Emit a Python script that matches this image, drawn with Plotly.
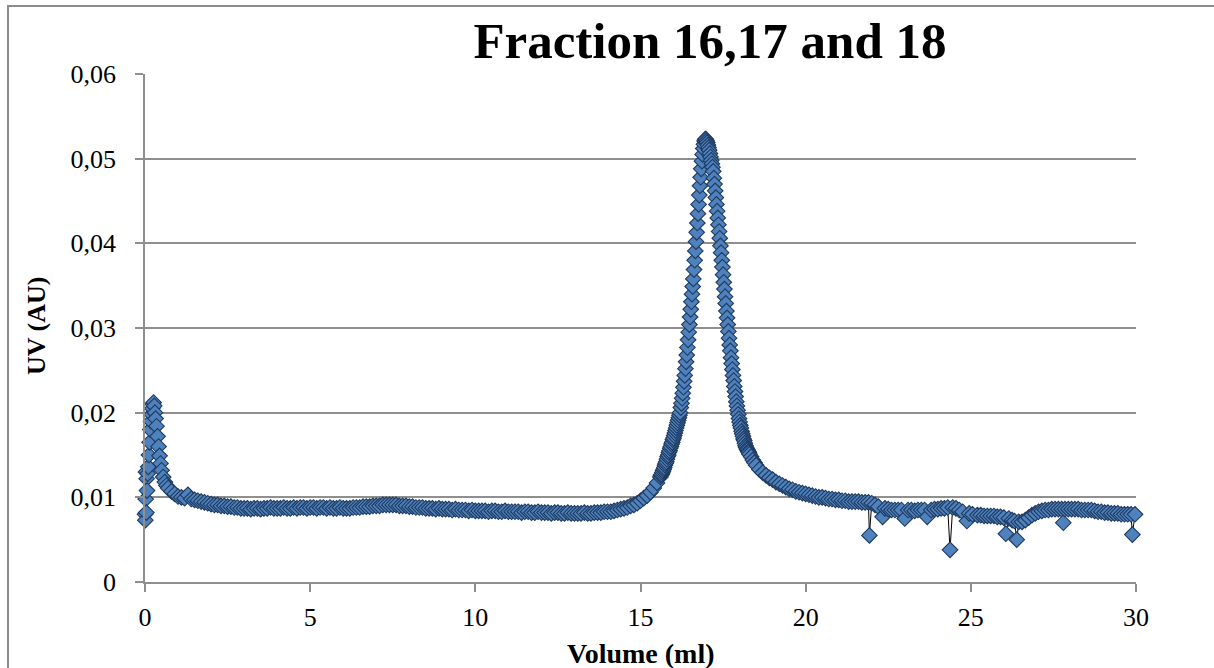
import plotly.graph_objects as go

# ---- data (volume in ml, UV absorbance in AU) ----
volume_ml = [
    0.00, 0.01, 0.02, 0.03, 0.04, 0.05, 0.06, 0.08, 0.10, 0.12, 0.14, 0.16, 0.18, 0.20, 0.22, 0.24,
    0.26, 0.28, 0.30, 0.32, 0.35, 0.38, 0.41, 0.44, 0.47, 0.50, 0.55, 0.60, 0.65, 0.70, 0.80, 0.90,
    1.0, 1.1, 1.2, 1.3, 1.4, 1.5, 1.6, 1.7, 1.8, 1.9,
    2.0, 2.1, 2.2, 2.3, 2.4, 2.5, 2.6, 2.7, 2.8, 2.9,
    3.0, 3.1, 3.2, 3.3, 3.4, 3.5, 3.6, 3.7, 3.8, 3.9,
    4.0, 4.1, 4.2, 4.3, 4.4, 4.5, 4.6, 4.7, 4.8, 4.9,
    5.0, 5.1, 5.2, 5.3, 5.4, 5.5, 5.6, 5.7, 5.8, 5.9,
    6.0, 6.1, 6.2, 6.3, 6.4, 6.5, 6.6, 6.7, 6.8, 6.9,
    7.0, 7.1, 7.2, 7.3, 7.4, 7.5, 7.6, 7.7, 7.8, 7.9,
    8.0, 8.1, 8.2, 8.3, 8.4, 8.5, 8.6, 8.7, 8.8, 8.9,
    9.0, 9.1, 9.2, 9.3, 9.4, 9.5, 9.6, 9.7, 9.8, 9.9,
    10.0, 10.1, 10.2, 10.3, 10.4, 10.5, 10.6, 10.7, 10.8, 10.9,
    11.0, 11.1, 11.2, 11.3, 11.4, 11.5, 11.6, 11.7, 11.8, 11.9,
    12.0, 12.1, 12.2, 12.3, 12.4, 12.5, 12.6, 12.7, 12.8, 12.9,
    13.0, 13.1, 13.2, 13.3, 13.4, 13.5, 13.6, 13.7, 13.8, 13.9,
    14.0, 14.1, 14.2, 14.3, 14.4, 14.5, 14.6, 14.7, 14.8, 14.9,
    15.0, 15.1, 15.2, 15.3, 15.4, 15.5,
    15.60, 15.62, 15.64, 15.66, 15.68, 15.70, 15.72, 15.74, 15.76, 15.78,
    15.80, 15.82, 15.84, 15.86, 15.88, 15.90, 15.92, 15.94, 15.96, 15.98,
    16.00, 16.02, 16.04, 16.06, 16.08, 16.10, 16.12, 16.14, 16.16, 16.18,
    16.20, 16.22, 16.24, 16.26, 16.28, 16.30, 16.32, 16.34, 16.36, 16.38,
    16.40, 16.42, 16.44, 16.46, 16.48, 16.50, 16.52, 16.54, 16.56, 16.58,
    16.60, 16.62, 16.64, 16.66, 16.68, 16.70, 16.72, 16.74, 16.76, 16.78,
    16.80, 16.82, 16.84, 16.86, 16.88, 16.90, 16.92, 16.94, 16.96, 16.98,
    17.00, 17.02, 17.04, 17.06, 17.08, 17.10, 17.12, 17.14, 17.16, 17.18,
    17.20, 17.22, 17.24, 17.26, 17.28, 17.30, 17.32, 17.34, 17.36, 17.38,
    17.40, 17.42, 17.44, 17.46, 17.48, 17.50, 17.52, 17.54, 17.56, 17.58,
    17.60, 17.62, 17.64, 17.66, 17.68, 17.70, 17.72, 17.74, 17.76, 17.78,
    17.80, 17.82, 17.84, 17.86, 17.88, 17.90, 17.92, 17.94, 17.96, 17.98,
    18.00, 18.02, 18.04, 18.06, 18.08, 18.10, 18.12, 18.14, 18.16, 18.18,
    18.20, 18.22, 18.24, 18.26, 18.28, 18.30, 18.35, 18.40, 18.45,
    18.5, 18.6, 18.7, 18.8, 18.9, 19.0, 19.1, 19.2, 19.3, 19.4, 19.5, 19.6, 19.7,
    19.8, 19.9, 20.0, 20.1, 20.2, 20.3, 20.4, 20.5, 20.6, 20.7, 20.8, 20.9, 21.0, 21.1, 21.2,
    21.3, 21.4, 21.5, 21.6, 21.7, 21.8, 21.9,
    21.93, 22.0, 22.1, 22.2, 22.33, 22.4, 22.5, 22.6, 22.7, 22.8, 22.9, 23.0, 23.1, 23.2, 23.3,
    23.4, 23.5, 23.6, 23.68, 23.8, 23.9, 24.0, 24.1, 24.2, 24.3, 24.37, 24.45, 24.55, 24.65, 24.75,
    24.88, 24.95, 25.05, 25.2, 25.3, 25.4, 25.5, 25.6, 25.7, 25.8, 25.9, 26.0, 26.06, 26.15, 26.25,
    26.32, 26.39, 26.45, 26.55, 26.65, 26.75, 26.85, 26.95, 27.05, 27.15, 27.25, 27.35, 27.45, 27.55, 27.65,
    27.75, 27.8, 27.85, 27.95, 28.05, 28.15, 28.25, 28.35, 28.45, 28.55, 28.65, 28.75, 28.85, 28.95, 29.05,
    29.15, 29.25, 29.35, 29.45, 29.55, 29.65, 29.75, 29.85, 29.89, 29.97,
]

uv_au = [
    0.0080, 0.0073, 0.0098, 0.0130, 0.0082, 0.0122, 0.0108, 0.0128, 0.0136, 0.0150, 0.0165, 0.0180, 0.0190, 0.0198, 0.0205, 0.0210,
    0.0212, 0.0208, 0.0200, 0.0193, 0.0184, 0.0172, 0.0160, 0.0149, 0.0140, 0.0132, 0.0124, 0.0118, 0.0114, 0.0111, 0.0107, 0.0104,
    0.0101, 0.0100, 0.0099, 0.0103, 0.0098, 0.0097, 0.0096, 0.0095, 0.0094, 0.0093,
    0.0092, 0.0091, 0.0091, 0.0090, 0.0090, 0.0089, 0.0089, 0.0088, 0.0088, 0.0087,
    0.0087, 0.0087, 0.0086, 0.0087, 0.0087, 0.0086, 0.0087, 0.0087, 0.0088, 0.0087,
    0.0087, 0.0087, 0.0088, 0.0087, 0.0087, 0.0088, 0.0087, 0.0088, 0.0088, 0.0087,
    0.0088, 0.0088, 0.0087, 0.0088, 0.0088, 0.0087, 0.0088, 0.0087, 0.0087, 0.0088,
    0.0087, 0.0087, 0.0087, 0.0088, 0.0088, 0.0088, 0.0089, 0.0089, 0.0089, 0.0090,
    0.0090, 0.0090, 0.0091, 0.0091, 0.0091, 0.0091, 0.0091, 0.0090, 0.0090, 0.0090,
    0.0089, 0.0089, 0.0088, 0.0088, 0.0088, 0.0087, 0.0087, 0.0087, 0.0086, 0.0087,
    0.0086, 0.0086, 0.0086, 0.0085, 0.0086, 0.0085, 0.0085, 0.0085, 0.0084, 0.0085,
    0.0084, 0.0084, 0.0084, 0.0084, 0.0083, 0.0084, 0.0084, 0.0083, 0.0083, 0.0084,
    0.0083, 0.0083, 0.0083, 0.0083, 0.0082, 0.0083, 0.0083, 0.0082, 0.0082, 0.0083,
    0.0082, 0.0082, 0.0082, 0.0081, 0.0082, 0.0082, 0.0081, 0.0081, 0.0082, 0.0081,
    0.0081, 0.0081, 0.0081, 0.0082, 0.0081, 0.0081, 0.0082, 0.0082, 0.0082, 0.0083,
    0.0083, 0.0083, 0.0084, 0.0085, 0.0086, 0.0087, 0.0088, 0.0090, 0.0091, 0.0093,
    0.0096, 0.0099, 0.0102, 0.0106, 0.0111, 0.0117,
    0.0124, 0.0126, 0.0127, 0.0129, 0.0131, 0.0133, 0.0135, 0.0138, 0.0140, 0.0142,
    0.0145, 0.0148, 0.0150, 0.0153, 0.0155, 0.0158, 0.0160, 0.0163, 0.0165, 0.0168,
    0.0170, 0.0173, 0.0176, 0.0179, 0.0182, 0.0185, 0.0188, 0.0191, 0.0194, 0.0197,
    0.0200, 0.0206, 0.0211, 0.0217, 0.0223, 0.0230, 0.0237, 0.0244, 0.0252, 0.0260,
    0.0268, 0.0277, 0.0286, 0.0295, 0.0304, 0.0313, 0.0322, 0.0331, 0.0340, 0.0349,
    0.0358, 0.0369, 0.0380, 0.0391, 0.0402, 0.0413, 0.0424, 0.0435, 0.0446, 0.0457,
    0.0468, 0.0478, 0.0488, 0.0497, 0.0505, 0.0512, 0.0517, 0.0521, 0.0523, 0.0523,
    0.0521, 0.0519, 0.0516, 0.0513, 0.0510, 0.0506, 0.0502, 0.0498, 0.0494, 0.0490,
    0.0485, 0.0477, 0.0470, 0.0462, 0.0454, 0.0446, 0.0438, 0.0430, 0.0422, 0.0414,
    0.0406, 0.0397, 0.0389, 0.0380, 0.0372, 0.0363, 0.0354, 0.0346, 0.0337, 0.0329,
    0.0320, 0.0312, 0.0304, 0.0296, 0.0288, 0.0280, 0.0273, 0.0265, 0.0258, 0.0251,
    0.0244, 0.0238, 0.0231, 0.0225, 0.0219, 0.0213, 0.0208, 0.0203, 0.0198, 0.0193,
    0.0189, 0.0185, 0.0182, 0.0178, 0.0175, 0.0172, 0.0169, 0.0167, 0.0164, 0.0161,
    0.0159, 0.0157, 0.0156, 0.0154, 0.0153, 0.0151, 0.0148, 0.0144, 0.0141,
    0.0138, 0.0133, 0.0129, 0.0126, 0.0123, 0.0121, 0.0118, 0.0116, 0.0114, 0.0112, 0.0110, 0.0109, 0.0107,
    0.0106, 0.0105, 0.0104, 0.0103, 0.0102, 0.0101, 0.0100, 0.0100, 0.0099, 0.0098, 0.0098, 0.0097, 0.0097, 0.0096, 0.0096,
    0.0095, 0.0095, 0.0095, 0.0095, 0.0094, 0.0094, 0.0094,
    0.0055, 0.0093, 0.0091, 0.0089, 0.0077, 0.0087, 0.0086, 0.0085, 0.0085, 0.0085, 0.0085, 0.0075, 0.0085, 0.0085, 0.0084,
    0.0085, 0.0085, 0.0085, 0.0077, 0.0085, 0.0086, 0.0086, 0.0087, 0.0087, 0.0088, 0.0038, 0.0088, 0.0087, 0.0085, 0.0083,
    0.0072, 0.0081, 0.0080, 0.0079, 0.0079, 0.0078, 0.0078, 0.0078, 0.0078, 0.0077, 0.0077, 0.0076, 0.0057, 0.0075, 0.0073,
    0.0072, 0.0050, 0.0071, 0.0071, 0.0073, 0.0076, 0.0079, 0.0081, 0.0083, 0.0084, 0.0085, 0.0085, 0.0086, 0.0086, 0.0086,
    0.0086, 0.0070, 0.0086, 0.0086, 0.0086, 0.0086, 0.0086, 0.0085, 0.0085, 0.0085, 0.0085, 0.0084, 0.0083, 0.0083, 0.0082,
    0.0082, 0.0081, 0.0081, 0.0081, 0.0080, 0.0080, 0.0080, 0.0080, 0.0056, 0.0080,
]

x_tick_vals = [0, 5, 10, 15, 20, 25, 30]
y_tick_vals = [0, 0.01, 0.02, 0.03, 0.04, 0.05, 0.06]
y_tick_text = ["0", "0,01", "0,02", "0,03", "0,04", "0,05", "0,06"]

chart_title = "Fraction 16,17 and 18"
x_title = "Volume (ml)"
y_title = "UV (AU)"

FONT = "Liberation Serif"
GRID = "#8f8f8f"

fig = go.Figure()
fig.add_trace(go.Scatter(
    x=volume_ml, y=uv_au, mode="lines+markers",
    line=dict(color="black", width=1),
    marker=dict(symbol="diamond", size=12, color="#4F81BD",
                line=dict(color="#1E3A5F", width=1.1)),
    cliponaxis=False, showlegend=False, hoverinfo="x+y",
))

W, H = 1214, 668
L, R, T, B = 145, 78, 74, 86
pw, ph = W - L - R, H - T - B


def px_x(p):
    return (p - L) / pw


def px_y(p):
    return (H - B - p) / ph


fig.update_layout(
    width=W, height=H,
    margin=dict(l=L, r=R, t=T, b=B),
    paper_bgcolor="white", plot_bgcolor="white",
    font=dict(family=FONT, color="black", size=26),
    title=dict(text="<b>" + chart_title + "</b>", x=710 / W, xanchor="center",
               xref="container", y=1 - 40 / H, yanchor="middle", yref="container",
               font=dict(family=FONT, size=51, color="black")),
    xaxis=dict(range=[0, 30], tickvals=x_tick_vals, showgrid=False, zeroline=False,
               showline=True, linecolor=GRID, linewidth=1.5,
               ticks="outside", ticklen=8, tickcolor=GRID, tickwidth=1.5,
               ticklabelstandoff=3, tickfont=dict(size=26)),
    yaxis=dict(range=[0, 0.06], tickvals=y_tick_vals, ticktext=y_tick_text,
               showgrid=True, gridcolor=GRID, gridwidth=1.5, zeroline=False,
               showline=True, linecolor=GRID, linewidth=1.5,
               ticks="outside", ticklen=8, tickcolor=GRID, tickwidth=1.5,
               ticklabelstandoff=14, tickfont=dict(size=26)),
    annotations=[
        dict(text="<b>" + x_title + "</b>", xref="paper", yref="paper",
             x=px_x(641), y=px_y(653), xanchor="center", yanchor="middle",
             showarrow=False, font=dict(family=FONT, size=28, color="black")),
        dict(text="<b>" + y_title + "</b>", xref="paper", yref="paper",
             x=px_x(36), y=px_y(326), xanchor="center", yanchor="middle",
             textangle=-90, showarrow=False,
             font=dict(family=FONT, size=26, color="black")),
    ],
    shapes=[
        dict(type="rect", xref="paper", yref="paper",
             x0=px_x(8), x1=px_x(1230), y0=px_y(690), y1=px_y(6),
             line=dict(color="#8c8c8c", width=2), fillcolor="rgba(0,0,0,0)",
             layer="below"),
    ],
)

fig.write_html("out.html", config={"displayModeBar": False},
               post_script="document.body.style.margin='0';document.body.style.overflow='hidden';")
